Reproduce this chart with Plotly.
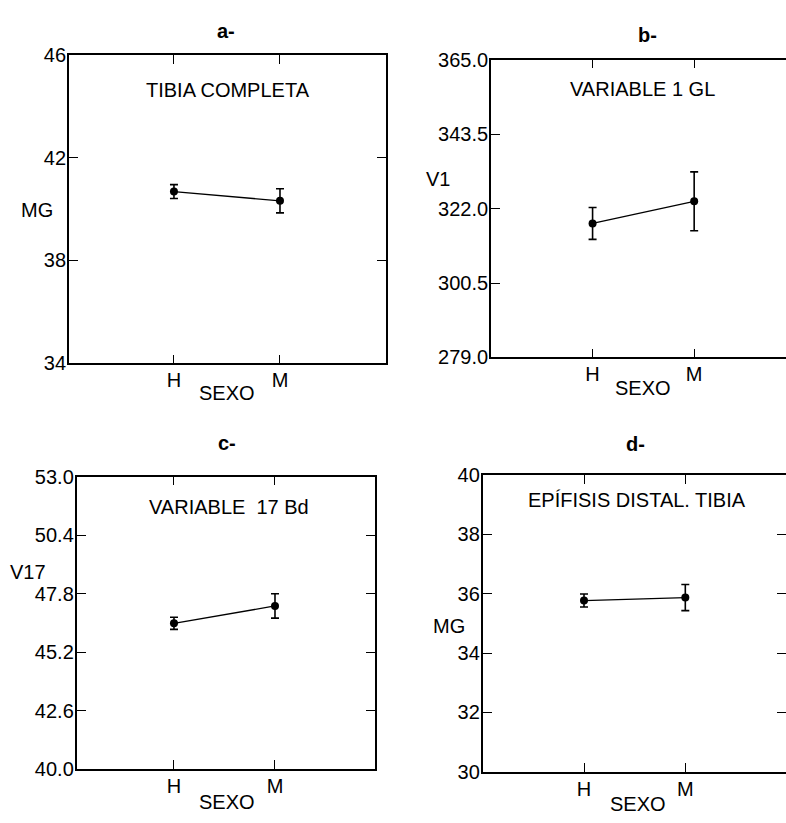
import plotly.graph_objects as go

W, H = 786, 823

categories = ["H", "M"]

a_mean = [40.68, 40.32]
a_err = [0.27, 0.47]
a_ticks = [34, 38, 42, 46]

b_mean = [317.7, 324.1]
b_err = [4.6, 8.5]
b_ticks = [279.0, 300.5, 322.0, 343.5, 365.0]

c_mean = [46.48, 47.25]
c_err = [0.27, 0.54]
c_ticks = [40.0, 42.6, 45.2, 47.8, 50.4, 53.0]

d_mean = [35.77, 35.87]
d_err = [0.22, 0.44]
d_ticks = [30, 32, 34, 36, 38, 40]

FONT = "Liberation Sans, Arial, sans-serif"
TICKFONT = dict(family=FONT, size=20, color="black")


def px(x):
    return x / W


def py(y):
    return 1 - y / H


panels = [
    ("a", a_mean, a_err, a_ticks, "d", (69, 386), (45, 362), [-0.99, 2.0], True, False),
    ("b", b_mean, b_err, b_ticks, ".1f", (491, 786), (50, 356), [-1.0, 1.904], False, False),
    ("c", c_mean, c_err, c_ticks, ".1f", (76.7, 375), (478.3, 779), [-0.963, 1.99], True, False),
    ("d", d_mean, d_err, d_ticks, "d", (482.7, 786), (476.7, 781.7), [-1.0, 1.994], False, True),
]

fig = go.Figure()
layout = {}
for i, (name, mean, err, yt, fmt, xd, yd, xr, mirror_y, rticks) in enumerate(panels):
    n = i + 1
    xa = "x" if n == 1 else f"x{n}"
    ya = "y" if n == 1 else f"y{n}"
    fig.add_trace(go.Scatter(
        x=categories, y=mean, xaxis=xa, yaxis=ya,
        mode="lines+markers",
        line=dict(color="black", width=1.3),
        marker=dict(color="black", size=8),
        error_y=dict(type="data", array=err, visible=True, color="black",
                     thickness=1.6, width=4),
        showlegend=False, hoverinfo="skip",
    ))
    xkey = "xaxis" if n == 1 else f"xaxis{n}"
    ykey = "yaxis" if n == 1 else f"yaxis{n}"
    layout[xkey] = dict(
        domain=[px(xd[0]), px(xd[1])], anchor=ya, type="category",
        range=xr, showgrid=False, zeroline=False,
        showline=True, linecolor="black", linewidth=1.5, mirror="ticks",
        ticks="inside", ticklen=9, tickwidth=1.3, tickcolor="black",
        tickfont=TICKFONT, fixedrange=True, ticklabelstandoff=-2,
    )
    ymin, ymax = yt[0], yt[-1]
    layout[ykey] = dict(
        domain=[py(yd[1]), py(yd[0])], anchor=xa,
        range=[ymin, ymax], tickvals=yt,
        ticktext=[format(v, ".1f") if fmt == ".1f" else str(int(v)) for v in yt],
        showgrid=False, zeroline=False,
        showline=True, linecolor="black", linewidth=1.8,
        mirror="ticks" if mirror_y else False,
        ticks="inside", ticklen=9, tickwidth=1.3, tickcolor="black",
        tickfont=TICKFONT, fixedrange=True, ticklabelstandoff=-3,
    )
    if rticks:
        layout["yaxis5"] = dict(
            overlaying=ya, anchor="free", position=1.0, side="right",
            range=[ymin, ymax], tickvals=yt, showticklabels=False,
            showgrid=False, zeroline=False, showline=False,
            ticks="inside", ticklen=9, tickwidth=1.3, tickcolor="black",
            fixedrange=True,
        )

fig.add_trace(go.Scatter(x=[], y=[], xaxis="x4", yaxis="y5", showlegend=False))

anns = []


def ann(text, x, y, size=20, bold=False, xanchor="center"):
    anns.append(dict(
        text=f"<b>{text}</b>" if bold else text,
        x=px(x), y=py(y), xref="paper", yref="paper",
        xanchor=xanchor, yanchor="middle", showarrow=False,
        font=dict(family=FONT, size=size, color="black"),
    ))


ann("a-", 226, 21, size=20, bold=True)
ann("b-", 647, 25, size=20, bold=True)
ann("c-", 227, 444, size=20, bold=True)
ann("d-", 635, 445, size=20, bold=True)
ann("TIBIA COMPLETA", 228, 81)
ann("VARIABLE 1 GL", 642, 80)
ann("VARIABLE&nbsp;&nbsp;17 Bd", 229, 510)
ann("EPÍFISIS DISTAL. TIBIA", 637, 502)
ann("MG", 37, 204)
ann("V1", 452, 173, xanchor="right")
ann("V17", 28, 576)
ann("MG", 449, 632)
ann("SEXO", 227, 392)
ann("SEXO", 643, 387)
ann("SEXO", 227, 813)
ann("SEXO", 638, 815)

fig.update_layout(
    width=W, height=H,
    margin=dict(l=0, r=0, t=0, b=0),
    paper_bgcolor="white", plot_bgcolor="white",
    annotations=anns,
    **layout,
)

fig.write_html("out.html", config={"displayModeBar": False})
